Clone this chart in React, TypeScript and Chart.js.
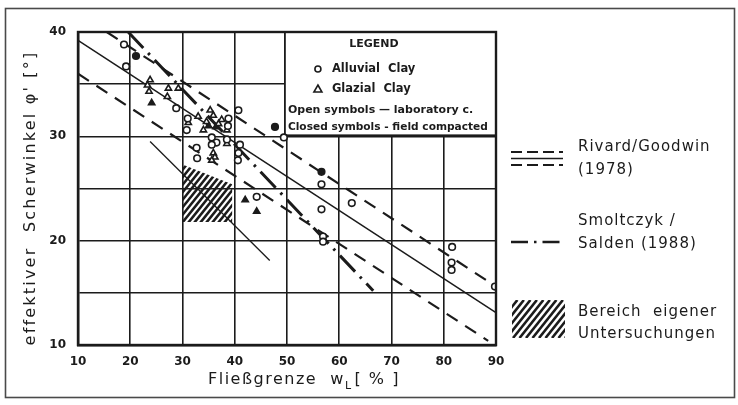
import React, { useEffect, useRef } from 'react';
import { Chart, registerables } from 'chart.js';

Chart.register(...registerables);

const FONT = '"DejaVu Sans", "Liberation Sans", sans-serif';
const INK = '#1b1b1b';

// Axis ranges (liquid limit w_L in %, effective friction angle in degrees)
const xMin = 10;
const xMax = 90;
const yMin = 10;
const yMax = 40;

// Tick positions and the ones that carry a label
const xTicks = [10, 20, 30, 40, 50, 60, 70, 80, 90];
const yGrid = [10, 15, 20, 25, 30, 35, 40];
const yTicks = [10, 20, 30, 40];

// Alluvial clay, laboratory compacted (open circles)
const alluvialOpenWL = [18.8, 19.2, 28.8, 31.0, 30.8, 40.7, 38.8, 38.7, 35.6, 36.5, 38.5, 41.0, 40.7, 40.6, 32.7, 32.8, 35.6, 49.4, 56.6, 62.4, 56.6, 56.9, 56.9, 81.6, 81.5, 81.5, 89.8, 44.2];
const alluvialOpenPhi = [38.8, 36.7, 32.7, 31.7, 30.6, 32.5, 31.7, 31.0, 29.9, 29.4, 29.7, 29.2, 28.4, 27.7, 28.9, 27.9, 29.2, 29.9, 25.4, 23.6, 23.0, 20.4, 19.9, 19.4, 17.9, 17.2, 15.6, 24.2];

// Alluvial clay, field compacted (closed circles)
const alluvialClosedWL = [21.1, 47.7, 56.6];
const alluvialClosedPhi = [37.7, 30.9, 26.6];

// Glacial clay, laboratory compacted (open triangles)
const glazialOpenWL = [23.8, 23.3, 23.6, 27.3, 27.1, 29.2, 31.1, 35.3, 35.9, 34.6, 34.0, 36.9, 37.5, 38.5, 38.5, 35.9, 36.2, 35.6, 33.0];
const glazialOpenPhi = [35.4, 34.9, 34.3, 34.6, 33.8, 34.6, 31.3, 32.5, 32.0, 31.4, 30.6, 31.2, 31.6, 30.6, 29.3, 28.4, 28.0, 27.7, 31.9];

// Glacial clay, field compacted (closed triangles)
const glazialClosedWL = [24.1, 35.0, 36.4, 42.0, 44.2];
const glazialClosedPhi = [33.2, 31.0, 30.9, 23.9, 22.8];

// Rivard/Goodwin (1978): mean line and band limits
const rivardMeanWL = [10, 90];
const rivardMeanPhi = [39.2, 13.1];
const rivardUpperWL = [15.5, 90];
const rivardUpperPhi = [40, 15.6];
const rivardLowerWL = [10, 88.5];
const rivardLowerPhi = [36.0, 10.4];

// Smoltczyk/Salden (1988)
const smoltczykWL = [19.6, 66.5];
const smoltczykPhi = [40, 15.2];

// Trend line through the own test results
const ownTrendWL = [23.8, 46.7];
const ownTrendPhi = [29.5, 18.1];

// Outline of the own test region (hatched)
const ownRegionWL = [30, 39.5, 39.5, 30];
const ownRegionPhi = [27.3, 25.4, 21.8, 21.8];

const zip = (xs: number[], ys: number[]) => xs.map((x, i) => ({ x, y: ys[i] }));

function hatch(ctx: CanvasRenderingContext2D, x0: number, y0: number, x1: number, y1: number, gap: number, width: number) {
  ctx.save();
  ctx.strokeStyle = INK;
  ctx.lineWidth = width;
  ctx.lineCap = 'butt';
  const h = y1 - y0;
  for (let x = x0 - h; x <= x1 + h; x += gap) {
    ctx.beginPath();
    ctx.moveTo(x, y1);
    ctx.lineTo(x + h * 0.8, y0);
    ctx.stroke();
  }
  ctx.restore();
}

const figurePlugin = {
  id: 'figureDecor',
  beforeDraw(chart: any) {
    const { ctx } = chart;
    const xs = chart.scales.x;
    const ys = chart.scales.y;
    ctx.save();
    ctx.fillStyle = '#ffffff';
    ctx.fillRect(0, 0, chart.width, chart.height);
    // outer frame
    ctx.strokeStyle = '#4a4a4a';
    ctx.lineWidth = 1.6;
    ctx.strokeRect(5.5, 8.5, 729, 389);
    // hatched region of own tests
    ctx.beginPath();
    ownRegionWL.forEach((w, i) => {
      const px = xs.getPixelForValue(w);
      const py = ys.getPixelForValue(ownRegionPhi[i]);
      if (i === 0) ctx.moveTo(px, py);
      else ctx.lineTo(px, py);
    });
    ctx.closePath();
    ctx.clip();
    hatch(ctx, xs.getPixelForValue(29), ys.getPixelForValue(28), xs.getPixelForValue(41), ys.getPixelForValue(21), 6, 2.6);
    ctx.restore();
  },
  beforeDatasetsDraw(chart: any) {
    const { ctx, chartArea } = chart;
    const xs = chart.scales.x;
    const ys = chart.scales.y;
    const left = xs.getPixelForValue(49.6);
    const top = chartArea.top;
    const right = chartArea.right;
    const bottom = ys.getPixelForValue(30.1);
    ctx.save();
    ctx.fillStyle = '#ffffff';
    ctx.fillRect(left, top, right - left, bottom - top);
    ctx.strokeStyle = INK;
    ctx.lineWidth = 1.8;
    ctx.strokeRect(left, top, right - left, bottom - top);
    ctx.fillStyle = INK;
    ctx.textBaseline = 'middle';
    ctx.textAlign = 'center';
    ctx.font = `bold 11px ${FONT}`;
    ctx.fillText('LEGEND', left + 89, top + 12);
    ctx.textAlign = 'left';
    ctx.font = `bold 11.5px ${FONT}`;
    ctx.fillText('Alluvial  Clay', left + 47, top + 37, 92);
    ctx.fillText('Glazial  Clay', left + 47, top + 57, 92);
    ctx.font = `bold 11px ${FONT}`;
    ctx.fillText('Open symbols \u2014 laboratory c.', left + 3, top + 78, 192);
    ctx.fillText('Closed symbols - field compacted', left + 3, top + 95, 200);
    // symbols
    ctx.lineWidth = 1.6;
    ctx.strokeStyle = INK;
    ctx.beginPath();
    ctx.arc(left + 33, top + 37, 3, 0, Math.PI * 2);
    ctx.stroke();
    ctx.beginPath();
    ctx.moveTo(left + 33, top + 53);
    ctx.lineTo(left + 37, top + 60);
    ctx.lineTo(left + 29, top + 60);
    ctx.closePath();
    ctx.stroke();
    ctx.restore();
  },
  afterDraw(chart: any) {
    const { ctx, chartArea } = chart;
    ctx.save();
    // plot frame
    ctx.strokeStyle = INK;
    ctx.lineWidth = 2.4;
    ctx.strokeRect(chartArea.left, chartArea.top, chartArea.right - chartArea.left, chartArea.bottom - chartArea.top);

    ctx.fillStyle = INK;
    ctx.textBaseline = 'middle';
    // y-axis title
    ctx.save();
    ctx.translate(31, 198);
    ctx.rotate(-Math.PI / 2);
    ctx.textAlign = 'center';
    ctx.font = `16px ${FONT}`;
    (ctx as any).letterSpacing = '2.2px';
    ctx.fillText("effektiver  Scherwinkel \u03C6' [\u00B0]", 0, 0);
    ctx.restore();

    // x-axis title
    (ctx as any).letterSpacing = '1.5px';
    ctx.font = `16px ${FONT}`;
    ctx.textAlign = 'left';
    let x = 208;
    const y = 380;
    const part1 = 'Flie\u00DFgrenze  w';
    ctx.fillText(part1, x, y);
    x += ctx.measureText(part1).width;
    ctx.font = `11px ${FONT}`;
    ctx.fillText('L', x, y + 6);
    x += ctx.measureText('L').width + 2;
    ctx.font = `16px ${FONT}`;
    ctx.fillText('[ % ]', x, y);

    // right-hand legend
    (ctx as any).letterSpacing = '1px';
    ctx.font = `15px ${FONT}`;
    ctx.fillText('Rivard/Goodwin', 578, 147);
    ctx.fillText('(1978)', 578, 170);
    ctx.fillText('Smoltczyk /', 578, 221);
    ctx.fillText('Salden (1988)', 578, 244);
    ctx.fillText('Bereich  eigener', 578, 312);
    ctx.fillText('Untersuchungen', 578, 334);
    (ctx as any).letterSpacing = '0px';

    ctx.strokeStyle = INK;
    ctx.lineWidth = 2;
    ctx.setLineDash([11, 5]);
    ctx.beginPath();
    ctx.moveTo(511, 152); ctx.lineTo(563, 152);
    ctx.moveTo(511, 165); ctx.lineTo(563, 165);
    ctx.stroke();
    ctx.setLineDash([]);
    ctx.lineWidth = 1.5;
    ctx.beginPath();
    ctx.moveTo(511, 158.5); ctx.lineTo(563, 158.5);
    ctx.stroke();
    ctx.lineWidth = 2.6;
    ctx.setLineDash([17, 6, 2.5, 6]);
    ctx.beginPath();
    ctx.moveTo(511, 242); ctx.lineTo(563, 242);
    ctx.stroke();
    ctx.setLineDash([]);

    ctx.beginPath();
    ctx.rect(512, 300, 53, 38);
    ctx.clip();
    hatch(ctx, 512, 300, 565, 338, 6.5, 2.6);
    ctx.restore();
  },
};

export default function App() {
  const canvasRef = useRef<HTMLCanvasElement | null>(null);

  useEffect(() => {
    const canvas = canvasRef.current;
    if (!canvas) return;

    const lineSet = (label: string, xs: number[], ys: number[], width: number, dash: number[]) => ({
      type: 'line' as const,
      label,
      data: zip(xs, ys),
      borderColor: INK,
      borderWidth: width,
      borderDash: dash,
      pointRadius: 0,
      fill: false,
      tension: 0,
      order: 2,
    });

    const pointSet = (label: string, xs: number[], ys: number[], style: string, filled: boolean, radius: number) => ({
      type: 'scatter' as const,
      label,
      data: zip(xs, ys),
      pointStyle: style,
      pointRadius: radius,
      pointBorderWidth: 1.6,
      borderColor: INK,
      backgroundColor: filled ? INK : '#ffffff',
      order: 1,
    });

    const chart = new Chart(canvas, {
      type: 'scatter',
      data: {
        datasets: [
          lineSet('Rivard/Goodwin (1978)', rivardMeanWL, rivardMeanPhi, 1.6, []),
          lineSet('Rivard/Goodwin upper', rivardUpperWL, rivardUpperPhi, 2.2, [13, 9]),
          lineSet('Rivard/Goodwin lower', rivardLowerWL, rivardLowerPhi, 2.2, [13, 9]),
          lineSet('Smoltczyk/Salden (1988)', smoltczykWL, smoltczykPhi, 3, [22, 7, 2.5, 7]),
          lineSet('Bereich eigener Untersuchungen', ownTrendWL, ownTrendPhi, 1.3, []),
          pointSet('Alluvial Clay', alluvialOpenWL, alluvialOpenPhi, 'circle', false, 3.3),
          pointSet('Alluvial Clay (field)', alluvialClosedWL, alluvialClosedPhi, 'circle', true, 3.3),
          pointSet('Glazial Clay', glazialOpenWL, glazialOpenPhi, 'triangle', false, 3.6),
          pointSet('Glazial Clay (field)', glazialClosedWL, glazialClosedPhi, 'triangle', true, 3.6),
        ] as any,
      },
      options: {
        animation: false,
        responsive: false,
        events: [],
        layout: { padding: { left: 0, top: 32, right: 242, bottom: 0 } },
        plugins: {
          legend: { display: false },
          tooltip: { enabled: false },
          title: { display: false },
        },
        scales: {
          x: {
            type: 'linear',
            min: xMin,
            max: xMax,
            afterFit: (scale: any) => { scale.height = 60; },
            afterBuildTicks: (scale: any) => {
              scale.ticks = xTicks.map((v) => ({ value: v }));
            },
            ticks: {
              color: INK,
              padding: 10,
              maxRotation: 0,
              font: { family: FONT, size: 12, weight: 'bold' },
            },
            grid: { color: INK, lineWidth: 1.6, drawTicks: false },
            border: { display: true, color: INK, width: 2.4 },
          },
          y: {
            type: 'linear',
            min: yMin,
            max: yMax,
            afterFit: (scale: any) => { scale.width = 78; },
            afterBuildTicks: (scale: any) => {
              scale.ticks = yGrid.map((v) => ({ value: v }));
            },
            ticks: {
              color: INK,
              padding: 12,
              font: { family: FONT, size: 12, weight: 'bold' },
              callback: (v: any) => (yTicks.includes(Number(v)) ? String(v) : ''),
            },
            grid: { color: INK, lineWidth: 1.6, drawTicks: false },
            border: { display: true, color: INK, width: 2.4 },
          },
        },
      } as any,
      plugins: [figurePlugin],
    });

    return () => chart.destroy();
  }, []);

  return (
    <div style={{ position: 'fixed', left: 0, top: 0, width: 738, height: 405, background: '#ffffff' }}>
      <canvas ref={canvasRef} width={738} height={405} style={{ display: 'block', width: 738, height: 405 }} />
    </div>
  );
}
